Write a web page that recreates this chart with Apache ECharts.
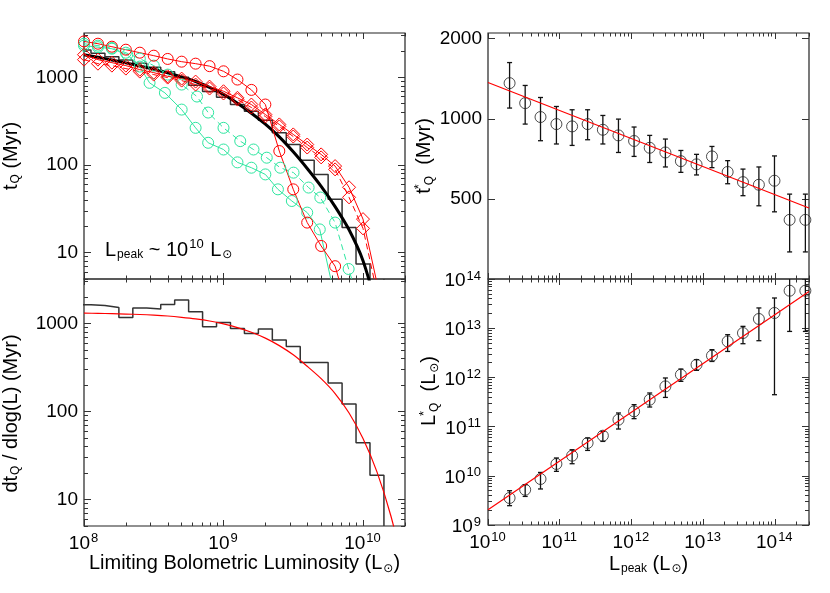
<!DOCTYPE html>
<html>
<head>
<meta charset="utf-8">
<script src="https://cdn.jsdelivr.net/npm/echarts@6/dist/echarts.min.js"></script>
<style>
html, body { margin: 0; padding: 0; background: #fff; }
#chart { width: 830px; height: 593px; }
</style>
</head>
<body>
<div id="chart"></div>
<script>
// ---- left panels: x values are log10(L / Lsun) ----
const binEdges = [7.95, 8.05, 8.15, 8.25, 8.35, 8.45, 8.55, 8.65, 8.75, 8.85, 8.95,
  9.05, 9.15, 9.25, 9.35, 9.45, 9.55, 9.65, 9.75, 9.85, 9.95, 10.05, 10.15];
// t_Q above the limiting luminosity (Myr), one per bin
const cumHist = [2050, 1880, 1720, 1570, 1450, 1300, 1160, 1000, 810, 687, 591,
  488, 410, 324, 233, 171, 113, 78, 40.6, 19.4, 7.4, 1.9];
// dt_Q / dlog(L) (Myr), one per bin
const diffHist = [1631, 1601, 1520, 1170, 1496, 1458, 1644, 1845, 1359, 917, 1026,
  877, 769, 863, 647, 548, 360, 360, 210, 122, 44, 18.9];

// thick black fit (top left)
const fitLogL = [8.0, 8.1, 8.2, 8.3, 8.4, 8.5, 8.6, 8.7, 8.8, 8.9, 9.0, 9.1, 9.2, 9.3, 9.4, 9.5, 9.6, 9.7, 9.8, 9.9, 10.0, 10.1];
const fitT = [1811, 1690, 1574, 1459, 1346, 1233, 1122, 1009, 895, 766, 638, 507, 389, 292, 209, 141, 91, 56.9, 33.5, 18.2, 8.1, 2.3];

// red fit (bottom left)
const difFitLogL = [8.0, 8.1, 8.2, 8.3, 8.4, 8.5, 8.6, 8.7, 8.8, 8.9, 9.0, 9.1, 9.2, 9.3, 9.4, 9.5, 9.6, 9.7, 9.8, 9.9, 10.0, 10.1, 10.2, 10.3];
const difFitVal = [1312, 1303, 1291, 1279, 1265, 1245, 1216, 1175, 1127, 1067, 989, 897, 794, 681, 560, 440, 326, 236, 160, 96.2, 49.3, 20.6, 6.5, 1.46];

// red circles
const redCircLogL = [8.0, 8.1, 8.2, 8.3, 8.4, 8.5, 8.6, 8.7, 8.8, 8.9, 9.0, 9.1, 9.2, 9.3, 9.4, 9.5, 9.6, 9.7, 9.8, 9.9];
const redCircT = [2566, 2415, 2233, 2064, 1908, 1764, 1619, 1507, 1430, 1340, 1170, 942, 718, 489, 144, 52.7, 22.0, 11.9, 7.0, 2];

// red diamonds (solid and dashed)
const diaLogL = [8.0, 8.1, 8.2, 8.3, 8.4, 8.5, 8.6, 8.7, 8.8, 8.9, 9.0, 9.1, 9.2, 9.3, 9.4, 9.5, 9.6, 9.7, 9.8, 9.9, 10.0, 10.1];
const diaT = [1811, 1589, 1468, 1358, 1222, 1130, 1026, 966, 893, 783, 693, 583, 489, 376, 290, 223, 171, 132, 97, 55.6, 24.1, 4.5];
const dia2T = [1589, 1429, 1358, 1256, 1161, 1073, 992, 917, 826, 744, 653, 557, 452, 357, 275, 211, 158, 122, 89, 42.7, 18.9, 3.5];

// green circles, solid line
const grnLogL = [8.0, 8.1, 8.2, 8.31, 8.40, 8.47, 8.58, 8.70, 8.80, 8.89, 9.0, 9.10, 9.20, 9.30, 9.39, 9.49, 9.60, 9.69, 9.80];
const grnT = [2296, 2205, 2117, 1811, 1324, 864, 664, 428, 265, 179, 150, 107, 93, 78, 52.7, 38.8, 28.6, 18.4, 3];

// green circles, dashed line
const grnDashLogL = [8.0, 8.1, 8.2, 8.3, 8.4, 8.5, 8.6, 8.7, 8.81, 8.89, 9.0, 9.12, 9.215, 9.31, 9.407, 9.502, 9.61, 9.694, 9.80, 9.897, 9.997];
const grnDashT = [2415, 2296, 2158, 1908, 1632, 1358, 1073, 826, 603, 396, 265, 187, 150, 121, 93, 81.7, 55.2, 42.5, 22.0, 6.5, 2];

// ---- right panels ----
const peakL = [2.0e10, 3.3e10, 5.4e10, 9.0e10, 1.49e11, 2.45e11, 4.0e11, 6.6e11, 1.09e12, 1.8e12,
  2.98e12, 4.9e12, 8.1e12, 1.33e13, 2.2e13, 3.6e13, 6.0e13, 9.9e13, 1.61e14, 2.67e14];
const tStar = [1361, 1145, 1015, 955, 936, 955, 909, 866, 825, 778, 747, 693, 674, 722, 631, 578, 565, 585, 417, 417];
const tStarHi = [1626, 1334, 1202, 1112, 1081, 1081, 1029, 997, 931, 866, 839, 760, 735, 787, 696, 647, 659, 725, 521, 521];
const tStarLo = [1097, 955, 827, 804, 794, 834, 804, 747, 722, 685, 659, 629, 615, 655, 570, 514, 471, 447, 316, 316];
const lStar = [3.54e9, 5.21e9, 8.61e9, 1.74e10, 2.56e10, 4.65e10, 6.53e10, 1.38e11, 2.04e11, 3.52e11,
  6.56e11, 1.135e12, 1.81e12, 2.76e12, 5.39e12, 7.98e12, 1.54e13, 2.04e13, 5.78e13, 5.78e13];
const lStarHi = [4.98e9, 6.59e9, 1.17e10, 2.30e10, 3.39e10, 5.86e10, 7.98e10, 1.89e11, 2.79e11, 4.82e11,
  9.73e11, 1.48e12, 2.29e12, 3.66e12, 7.38e12, 1.09e13, 2.58e13, 4.11e13, 1.3e14, 1.3e14];
const lStarLo = [2.47e9, 3.81e9, 5.40e9, 1.23e10, 1.76e10, 3.28e10, 5.00e10, 8.93e10, 1.45e11, 2.50e11,
  3.92e11, 8.30e11, 1.39e12, 2.11e12, 3.37e12, 4.84e12, 5.57e12, 4.45e11, 8.6e12, 8.6e12];
const fitPeakL = [1e10, 3e14];
const tStarFit = [1369, 462];
const lStarFit = [2.05e9, 5.6e13];

const LEFT_X = [1e8, 2e10], LEFT_Y = [5, 3200];
const RIGHT_X = [1e10, 3e14], TSTAR_Y = [250, 2100], LSTAR_Y = [1e9, 1e14];

const FONT = 'Liberation Sans, DejaVu Sans, sans-serif';
const C_RED = '#ff0000', C_GRN = '#2ee6a0', C_AX = '#333';

function makeRich(big) {
    return {
        b: { fontFamily: FONT, fontSize: big, color: '#000', verticalAlign: 'top', padding: [4, 0, 0, 0] },
        sup: { fontFamily: FONT, fontSize: 13, color: '#000', verticalAlign: 'top', padding: [2, 1, 0, 1] },
        sub: { fontFamily: FONT, fontSize: 12, color: '#000', verticalAlign: 'top', padding: [13, 0, 0, 1] },
        st: { fontFamily: FONT, fontSize: 13, color: '#000', verticalAlign: 'top', padding: [2, 0, 0, 1], width: 1 }
    };
}
const rich = makeRich(19);
const richName = makeRich(20);

const chart = echarts.init(document.getElementById('chart'), null, { renderer: 'canvas' });

const xAxes = [], yAxes = [];

function decadeTicks(r) {
    let lo = Math.log10(r[0]), hi = Math.log10(r[1]), out = [];
    for (let e = Math.ceil(lo - 1e-9); e <= hi + 1e-9; e++) out.push(e);
    return out;
}
function minorTicks(r) {
    let lo = Math.log10(r[0]), hi = Math.log10(r[1]), out = [];
    for (let e = Math.floor(lo); e <= Math.ceil(hi); e++) {
        for (let k = 2; k <= 9; k++) {
            let v = e + Math.log10(k);
            if (v >= lo - 1e-9 && v <= hi + 1e-9) out.push(v);
        }
    }
    return out;
}

// tick-only axis in log10 units, laid over the hidden log axis of the same grid
function tickAxis(grid, pos, range, vals, len, extra) {
    let ax = {
        type: 'value', gridIndex: grid, position: pos,
        min: Math.log10(range[0]), max: Math.log10(range[1]),
        axisLine: { show: false, onZero: false },
        splitLine: { show: false },
        axisTick: { show: true, inside: true, length: len, customValues: vals, lineStyle: { color: C_AX, width: 1 } },
        axisLabel: { show: false }
    };
    if (extra) {
        ax.axisLabel = Object.assign({ show: true, customValues: vals, color: '#000', fontFamily: FONT, fontSize: 19, rich: rich }, extra.label);
        if (extra.name) Object.assign(ax, extra.name);
    }
    return ax;
}

function panel(grid, xr, yr, cfg) {
    let idx = { xAxisIndex: xAxes.length, yAxisIndex: yAxes.length };
    xAxes.push({ type: 'log', gridIndex: grid, min: xr[0], max: xr[1], show: false });
    yAxes.push({ type: 'log', gridIndex: grid, min: yr[0], max: yr[1], show: false });
    let xMaj = decadeTicks(xr), xMin = minorTicks(xr);
    let yMaj = cfg.yMajor || decadeTicks(yr);
    let yMin = cfg.yMajor ? [] : minorTicks(yr);
    xAxes.push(tickAxis(grid, 'bottom', xr, xMaj, 6, cfg.xBottom));
    xAxes.push(tickAxis(grid, 'bottom', xr, xMin, 3.5));
    xAxes.push(tickAxis(grid, 'top', xr, xMaj, 6));
    xAxes.push(tickAxis(grid, 'top', xr, xMin, 3.5));
    yAxes.push(tickAxis(grid, 'left', yr, yMaj, 7, cfg.yLeft));
    yAxes.push(tickAxis(grid, 'right', yr, yMaj, 7));
    if (yMin.length) {
        yAxes.push(tickAxis(grid, 'left', yr, yMin, 4));
        yAxes.push(tickAxis(grid, 'right', yr, yMin, 4));
    }
    return idx;
}

const plainLabel = { formatter: (v) => String(Math.round(Math.pow(10, v))), margin: 6, fontSize: 19 };
const powLabel = (m) => ({ formatter: (v) => '{b|10}{sup|' + Math.round(v) + '}', margin: m });
const yName = (text, gap, pad) => ({
    name: text, nameLocation: 'middle', nameGap: gap, nameRotate: 90,
    nameTextStyle: { rich: richName, padding: pad || 0 }
});
const xName = (text, gap) => ({
    name: text, nameLocation: 'middle', nameGap: gap,
    nameTextStyle: { rich: richName }
});

const TL = panel(0, LEFT_X, LEFT_Y, {
    yLeft: { label: plainLabel, name: yName('{b|t}{sub|Q}{b| (Myr)}', 62) }
});
const BL = panel(1, LEFT_X, LEFT_Y, {
    xBottom: { label: powLabel(4), name: xName('{b|Limiting Bolometric Luminosity (L}{sub|\u2299}{b|)}', 21) },
    yLeft: { label: plainLabel, name: yName('{b|dt}{sub|Q}{b| / dlog(L) (Myr)}', 62, [0, 22, 0, 0]) }
});
const TR = panel(2, RIGHT_X, TSTAR_Y, {
    yMajor: [Math.log10(500), Math.log10(1000), Math.log10(2000)],
    yLeft: { label: plainLabel, name: yName('{b|t}{st|*}{sub|Q}{b|  (Myr)}', 41) }
});
const BR = panel(3, RIGHT_X, LSTAR_Y, {
    xBottom: { label: powLabel(4), name: xName('{b|L}{sub|peak}{b| (L}{sub|\u2299}{b|)}', 25) },
    yLeft: { label: powLabel(6), name: yName('{b|L}{st|*}{sub|Q}{b|  (L}{sub|\u2299}{b|)}', 39, [0, 0, 0, 22]) }
});

function pairs(logs, vals) {
    return logs.map((e, i) => [Math.pow(10, e), vals[i]]);
}
function stepPairs(edges, vals, floor) {
    let d = vals.map((v, i) => [Math.pow(10, edges[i]), v]);
    let last = Math.pow(10, edges[vals.length]);
    d.push([last, vals[vals.length - 1]]);
    d.push([last, floor]);
    return d;
}
function line(ax, data, color, o) {
    return Object.assign({
        type: 'line', xAxisIndex: ax.xAxisIndex, yAxisIndex: ax.yAxisIndex, data: data,
        symbol: 'none', clip: true, silent: true, animation: false,
        lineStyle: { color: color, width: 1 }
    }, o);
}
function marked(ax, data, color, symbol, dashed) {
    return line(ax, data, color, {
        symbol: symbol, symbolSize: symbol === 'diamond' ? 13 : 11, showSymbol: true,
        lineStyle: { color: color, width: 1, type: dashed ? [6, 4] : 'solid' },
        itemStyle: { color: 'rgba(0,0,0,0)', borderColor: color, borderWidth: 1 }
    });
}
function errorBars(ax, xs, lo, hi) {
    return {
        type: 'custom', xAxisIndex: ax.xAxisIndex, yAxisIndex: ax.yAxisIndex,
        clip: true, silent: true, animation: false,
        data: xs.map((x, i) => [x, lo[i], hi[i]]),
        encode: { x: 0, y: [1, 2] },
        renderItem: function (params, api) {
            let a = api.coord([api.value(0), api.value(1)]);
            let b = api.coord([api.value(0), api.value(2)]);
            let w = 2.5, st = { stroke: '#111', lineWidth: 1.3 };
            return {
                type: 'group', children: [
                    { type: 'line', shape: { x1: a[0], y1: a[1], x2: b[0], y2: b[1] }, style: st },
                    { type: 'line', shape: { x1: a[0] - w, y1: a[1], x2: a[0] + w, y2: a[1] }, style: st },
                    { type: 'line', shape: { x1: b[0] - w, y1: b[1], x2: b[0] + w, y2: b[1] }, style: st }
                ]
            };
        }
    };
}
function circles(ax, xs, ys) {
    return {
        type: 'scatter', xAxisIndex: ax.xAxisIndex, yAxisIndex: ax.yAxisIndex,
        data: xs.map((x, i) => [x, ys[i]]), symbol: 'circle', symbolSize: 11,
        silent: true, animation: false,
        itemStyle: { color: 'rgba(0,0,0,0)', borderColor: '#222', borderWidth: 1 }
    };
}

const series = [
    // top left
    line(TL, stepPairs(binEdges, cumHist, LEFT_Y[0]), '#333', { step: 'end', lineStyle: { color: '#333', width: 1.5 } }),
    line(TL, pairs(fitLogL, fitT), '#000', { smooth: 0.3, lineStyle: { color: '#000', width: 3 } }),
    marked(TL, pairs(grnLogL, grnT), C_GRN, 'circle', false),
    marked(TL, pairs(grnDashLogL, grnDashT), C_GRN, 'circle', true),
    marked(TL, pairs(redCircLogL, redCircT), C_RED, 'circle', false),
    marked(TL, pairs(diaLogL, diaT), C_RED, 'diamond', false),
    marked(TL, pairs(diaLogL, dia2T), C_RED, 'diamond', true),
    // bottom left
    line(BL, stepPairs(binEdges, diffHist, LEFT_Y[0]), '#333', { step: 'end', lineStyle: { color: '#333', width: 1.5 } }),
    line(BL, pairs(difFitLogL, difFitVal), C_RED, { smooth: 0.3, lineStyle: { color: C_RED, width: 1.2 } }),
    // top right
    errorBars(TR, peakL, tStarLo, tStarHi),
    circles(TR, peakL, tStar),
    line(TR, fitPeakL.map((x, i) => [x, tStarFit[i]]), C_RED, { lineStyle: { color: C_RED, width: 1.2 } }),
    // bottom right
    errorBars(BR, peakL, lStarLo, lStarHi),
    circles(BR, peakL, lStar),
    line(BR, fitPeakL.map((x, i) => [x, lStarFit[i]]), C_RED, { lineStyle: { color: C_RED, width: 1.2 } })
];

const gridBox = { show: true, borderColor: '#222', borderWidth: 1.2, backgroundColor: 'transparent' };

chart.setOption({
    animation: false,
    backgroundColor: '#fff',
    grid: [
        Object.assign({ left: 84, top: 33, width: 321, height: 246 }, gridBox),
        Object.assign({ left: 84, top: 279, width: 321, height: 247 }, gridBox),
        Object.assign({ left: 488, top: 33, width: 321, height: 246 }, gridBox),
        Object.assign({ left: 488, top: 279, width: 321, height: 246 }, gridBox)
    ],
    xAxis: xAxes,
    yAxis: yAxes,
    series: series,
    graphic: [{
        type: 'text', x: 105, y: 236, silent: true,
        style: { text: '{b|L}{sub|peak}{b| ~ 10}{sup|10}{b| L}{sub|\u2299}', rich: richName }
    }]
});
</script>
</body>
</html>
